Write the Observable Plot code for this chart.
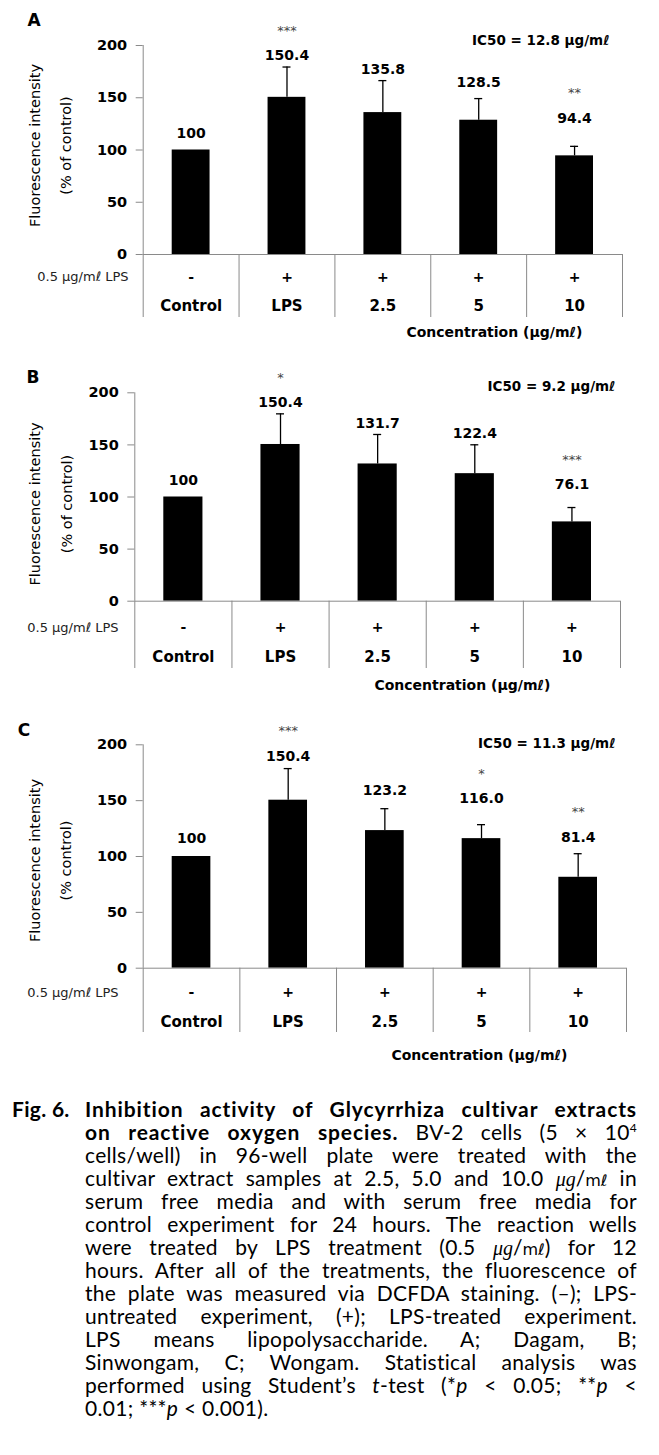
<!DOCTYPE html>
<html><head><meta charset="utf-8">
<script src="https://cdn.jsdelivr.net/npm/d3@7"></script>
<script src="https://cdn.jsdelivr.net/npm/@observablehq/plot@0.6"></script>
<style>
html,body{margin:0;padding:0;background:#fff;}
#wrap{position:relative;width:659px;height:1455px;overflow:hidden;background:#fff;}
.panel{position:absolute;left:0;}
#cap{position:absolute;left:0;top:1097px;width:659px;font-family:Lato,"DejaVu Sans",sans-serif;font-size:21px;letter-spacing:0.3px;line-height:23px;color:#000;}
.ln{margin-left:85px;width:552px;height:23px;text-align:justify;text-align-last:justify;white-space:nowrap;}
.last{text-align-last:left;}
.fig{position:absolute;left:12px;font-weight:bold;letter-spacing:0.3px;}
.b{font-weight:bold;letter-spacing:0.9px;}
.unit{display:inline-block;letter-spacing:0;}
.u{font-family:"Liberation Serif",serif;font-style:italic;font-size:20px;}
.u2{font-family:"DejaVu Sans",sans-serif;font-size:16px;}
sup{font-size:12px;vertical-align:8px;line-height:0;}
</style>
</head><body>
<div id="wrap">
  <div id="pA" class="panel" style="top:0px"></div>
  <div id="pB" class="panel" style="top:350px"></div>
  <div id="pC" class="panel" style="top:700px"></div>
  <div id="cap">
    <div class="ln b"><span class="fig">Fig. 6.</span>Inhibition activity of Glycyrrhiza cultivar extracts</div>
    <div class="ln"><span class="b">on reactive oxygen species.</span> BV-2 cells (5 × 10<sup>4</sup></div>
    <div class="ln">cells/well) in 96-well plate were treated with the</div>
    <div class="ln">cultivar extract samples at 2.5, 5.0 and 10.0 <span class="unit"><span class="u">μg</span>/<span class="u2">mℓ</span></span> in</div>
    <div class="ln">serum free media and with serum free media for</div>
    <div class="ln">control experiment for 24 hours. The reaction wells</div>
    <div class="ln">were treated by LPS treatment (0.5 <span class="unit"><span class="u">μg</span>/<span class="u2">mℓ</span>)</span> for 12</div>
    <div class="ln">hours. After all of the treatments, the fluorescence of</div>
    <div class="ln">the plate was measured via DCFDA staining. (–); LPS-</div>
    <div class="ln">untreated experiment, (+); LPS-treated experiment.</div>
    <div class="ln">LPS means lipopolysaccharide. A; Dagam, B;</div>
    <div class="ln">Sinwongam, C; Wongam. Statistical analysis was</div>
    <div class="ln">performed using Student’s <i>t</i>-test (*<i>p</i> &lt; 0.05; **<i>p</i> &lt;</div>
    <div class="ln last">0.01; ***<i>p</i> &lt; 0.001).</div>
  </div>
</div>
<script>
// ---- data ----
const categories = ["Control", "LPS", "2.5", "5", "10"];
const lpsTreatment = ["-", "+", "+", "+", "+"];
const yTicks = [0, 50, 100, 150, 200];

const valuesA = [100, 150.4, 135.8, 128.5, 94.4];
const errorsA = [0, 29.0, 30.6, 20.7, 9.1];
const starsA = ["", "***", "", "", "**"];

const valuesB = [100, 150.4, 131.7, 122.4, 76.1];
const errorsB = [0, 29.4, 28.3, 27.7, 13.8];
const starsB = ["", "*", "", "", "***"];

const valuesC = [100, 150.4, 123.2, 116.0, 81.4];
const errorsC = [0, 28.3, 19.6, 12.5, 21.1];
const starsC = ["", "***", "", "*", "**"];

const panelLetters = ["A", "B", "C"];
const ic50Labels = ["IC50 = 12.8 μg/mℓ", "IC50 = 9.2 μg/mℓ", "IC50 = 11.3 μg/mℓ"];
const yTitles = ["Fluorescence intensity\n(% of control)", "Fluorescence intensity\n(% of control)", "Fluorescence intensity\n(% control)"];
const xTitle = "Concentration (μg/mℓ)";
const rowTitle = "0.5 μg/mℓ LPS";

// ---- layout (per panel) ----
const layouts = [
  {height: 345, mt: 45, mb: 91, ml: 142.7, mr: 37, rowDy: 22.7, catDy: 52, divLen: 63, titleDy: 78, titleDx: -40, rowLabelDx: -14.7, icDx: -13, icDy: -5, letterDx: -109, letterDy: -25, ylDx: -98, ylDy: -4.5},
  {height: 350, mt: 42.3, mb: 99.3, ml: 134.3, mr: 39, rowDy: 26.3, catDy: 56.3, divLen: 67.3, titleDy: 84.3, titleDx: -70, rowLabelDx: -16.3, icDx: -5, icDy: -6, letterDx: -101.8, letterDy: -14.8, ylDx: -88.8, ylDy: 7},
  {height: 380, mt: 44.3, mb: 112.3, ml: 142.7, mr: 33, rowDy: 24.3, catDy: 54.3, divLen: 64.3, titleDy: 87.3, titleDx: -59, rowLabelDx: -24.7, icDx: -11, icDy: -1, letterDx: -119.2, letterDy: -14.3, ylDx: -97.7, ylDy: 4}
];

const series = [
  {values: valuesA, errors: errorsA, stars: starsA},
  {values: valuesB, errors: errorsB, stars: starsB},
  {values: valuesC, errors: errorsC, stars: starsC}
];

function panel(k) {
  const L = layouts[k], S = series[k];
  const rows = categories.map((c, i) => ({
    i, category: c, lps: lpsTreatment[i], value: S.values[i], sd: S.errors[i], star: S.stars[i],
    label: S.values[i] === 100 ? "100" : S.values[i].toFixed(1)
  }));
  const withErr = rows.filter(d => d.sd > 0);
  const labelY = d => d.value + (d.sd === 0 ? 16 : Math.max(36, d.sd + 11));
  const mid = d => d.i + 0.5;
  const gray = "#8a8a8a";
  const edges = d3.range(categories.length + 1);
  const M = {textAnchor: "middle", lineAnchor: "middle"};
  return Plot.plot({
    width: 659, height: L.height,
    marginTop: L.mt, marginBottom: L.mb, marginLeft: L.ml, marginRight: L.mr,
    x: {domain: [0, categories.length]},
    y: {domain: [0, 200]},
    style: {fontFamily: "DejaVu Sans", background: "transparent", overflow: "visible", color: "black"},
    marks: [
      Plot.rectY(rows, {x1: "i", x2: d => d.i + 1, y: "value", insetLeft: 29, insetRight: 29, fill: "black"}),
      Plot.ruleX(withErr, {x: mid, y1: "value", y2: d => d.value + d.sd, stroke: "black", strokeWidth: 1.3}),
      Plot.ruleY(withErr, {x1: mid, x2: mid, y: d => d.value + d.sd, insetLeft: -4, insetRight: -4, stroke: "black", strokeWidth: 1.3}),
      Plot.ruleY([0], {stroke: gray}),
      Plot.ruleX([0], {y1: 0, y2: 200, stroke: gray}),
      Plot.axisY({ticks: yTicks, tickSize: 7, tickPadding: 9, stroke: gray, fontSize: 14.5, fontWeight: "bold", label: null}),
      Plot.axisX({ticks: edges, tickSize: L.divLen, tickFormat: () => "", stroke: gray, label: null}),
      Plot.text(rows, {...M, x: mid, text: "lps", frameAnchor: "bottom", dy: L.rowDy, fontWeight: "bold", fontSize: 14}),
      Plot.text(rows, {...M, x: mid, text: "category", frameAnchor: "bottom", dy: L.catDy, fontWeight: "bold", fontSize: 15}),
      Plot.text([rowTitle], {frameAnchor: "bottom-left", dx: L.rowLabelDx, dy: L.rowDy, textAnchor: "end", lineAnchor: "middle", fontSize: 13, fill: "#222"}),
      Plot.text([xTitle], {frameAnchor: "bottom-right", dx: L.titleDx, dy: L.titleDy, textAnchor: "end", lineAnchor: "middle", fontWeight: "bold", fontSize: 14}),
      Plot.text([ic50Labels[k]], {frameAnchor: "top-right", dx: L.icDx, dy: L.icDy, textAnchor: "end", lineAnchor: "middle", fontWeight: "bold", fontSize: 13.5}),
      Plot.text([panelLetters[k]], {...M, frameAnchor: "top-left", dx: L.letterDx, dy: L.letterDy, fontWeight: "bold", fontSize: 17}),
      Plot.text([yTitles[k]], {...M, frameAnchor: "left", dx: L.ylDx, dy: L.ylDy, rotate: -90, fontSize: 14.5, lineHeight: 2.15}),
      Plot.text(rows, {...M, x: mid, y: labelY, text: "label", fontWeight: "bold", fontSize: 14}),
      Plot.text(rows.filter(d => d.star), {...M, x: mid, y: labelY, text: "star", dy: -25, fontSize: 13, fill: "#444"})
    ]
  });
}

document.getElementById("pA").appendChild(panel(0));
document.getElementById("pB").appendChild(panel(1));
document.getElementById("pC").appendChild(panel(2));
</script>
</body></html>
